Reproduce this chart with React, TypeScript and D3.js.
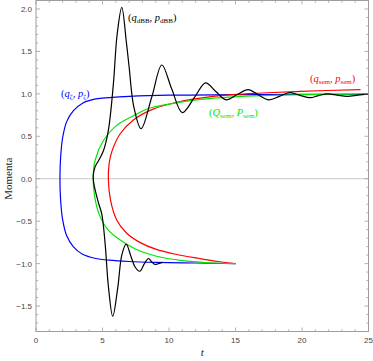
import React from 'react';
import * as d3 from 'd3';

// ---- data (t, momentum) ----
const blueT = [15, 12, 9, 7, 5.5, 4.5, 3.5, 2.8, 2.3, 2.0, 1.85, 1.8, 1.85, 2.0, 2.3, 2.8, 3.5, 4.5, 5.5, 7, 10, 15, 20, 25];
const blueP = [-1.0, -0.993, -0.985, -0.975, -0.96, -0.94, -0.89, -0.8, -0.67, -0.48, -0.25, 0, 0.25, 0.48, 0.67, 0.8, 0.89, 0.94, 0.955, 0.97, 0.985, 0.99, 0.993, 0.995];

const redT = [15, 13.7, 12.3, 10.5, 9, 7.8, 6.8, 6.05, 5.6, 5.44, 5.5, 5.7, 6.33, 7.3, 8.8, 10.84, 12.35, 14.8, 17, 19.9, 24.4];
const redP = [-1.0, -0.975, -0.94, -0.89, -0.83, -0.75, -0.64, -0.48, -0.25, 0, 0.18, 0.32, 0.53, 0.69, 0.82, 0.91, 0.95, 0.99, 1.01, 1.03, 1.05];

const greenT = [15, 13, 11, 9, 7.5, 6.3, 5.4, 4.75, 4.4, 4.3, 4.45, 5.07, 6.0, 7.3, 8.5, 10, 12.35, 14.8, 17, 20, 25];
const greenP = [-1.0, -0.99, -0.965, -0.91, -0.83, -0.72, -0.6, -0.42, -0.2, 0.02, 0.22, 0.45, 0.62, 0.74, 0.83, 0.88, 0.935, 0.965, 0.98, 0.99, 1.0];

const blackT = [9.5, 9.2, 8.95, 8.7, 8.46, 8.15, 7.8, 7.45, 7.15, 6.78, 6.45, 6.15, 5.77, 5.45, 5.2, 4.95, 4.69, 4.4, 4.3, 4.44, 4.69, 5.07, 5.44, 5.82, 6.1, 6.45, 6.8, 7.0, 7.35, 7.9, 8.7, 9.46, 10.2, 11.0, 11.9, 12.75, 13.5, 14.3, 15.1, 15.95, 16.7, 17.5, 18.3, 19.05, 19.8, 20.6, 21.25, 21.9, 22.65, 23.4, 24.2, 25];
const blackP = [-0.985, -1.0, -1.01, -0.98, -0.94, -1.0, -1.09, -1.04, -0.92, -0.77, -0.9, -1.28, -1.62, -1.28, -0.77, -0.42, -0.28, -0.1, 0.02, 0.14, 0.21, 0.33, 0.57, 1.12, 1.7, 2.02, 1.6, 1.32, 0.85, 0.59, 0.96, 1.34, 1.06, 0.78, 0.955, 1.13, 1.03, 0.93, 0.99, 1.05, 0.99, 0.93, 0.97, 1.015, 0.985, 0.955, 0.98, 1.0, 0.985, 0.97, 0.985, 1.0];

const xTicks = [0, 5, 10, 15, 20, 25];
const yTicks = [-1.5, -1.0, -0.5, 0.0, 0.5, 1.0, 1.5, 2.0];

const zip = (a: number[], b: number[]) => a.map((v, i) => [v, b[i]] as [number, number]);

export default function App() {
  const W = 373, H = 361;
  const x = d3.scaleLinear().domain([0, 25]).range([36, 368.5]);
  const y = d3.scaleLinear().domain([-1.8, 2.1]).range([331.5, 0.5]);
  const line = d3.line<[number, number]>().x(d => x(d[0])).y(d => y(d[1])).curve(d3.curveCatmullRom.alpha(0.5));

  const x0 = x.range()[0], x1 = x.range()[1], y0 = y.range()[0], y1 = y.range()[1];
  const frameCol = '#9e9e9e';
  const minorX = d3.range(0, 26, 1).filter(v => v % 5 !== 0);
  const minorY = d3.range(-18, 22, 1).map(v => v / 10).filter(v => Math.abs(Math.round(v * 10) % 5) !== 0);
  const fmt = d3.format('.1f');

  const serif = 'Liberation Serif, Times New Roman, serif';
  const sub = 7;
  const lbl = (xx: number, yy: number, col: string, a: string, b: string, s: string) => (
    <text x={xx} y={yy} fill={col} fontFamily={serif} fontSize={10.5}>
      <tspan>(</tspan>
      <tspan fontStyle="italic">{a}</tspan>
      <tspan fontSize={sub} dy={2}>{s}</tspan>
      <tspan dy={-2}>, </tspan>
      <tspan fontStyle="italic">{b}</tspan>
      <tspan fontSize={sub} dy={2}>{s}</tspan>
      <tspan dy={-2}>)</tspan>
    </text>
  );

  return (
    <svg width={W} height={H} style={{ position: 'absolute', left: 0, top: 0, background: '#fff' }}>
      {/* y = 0 axis */}
      <line x1={x0} x2={x1} y1={y(0)} y2={y(0)} stroke="#c8c8c8" strokeWidth={1} />
      {/* curves */}
      <g fill="none" strokeWidth={1.2} strokeLinejoin="round">
        <path d={line(zip(blueT, blueP)) || ''} stroke="#0000ff" />
        <path d={line(zip(redT, redP)) || ''} stroke="#ff0000" />
        <path d={line(zip(greenT, greenP)) || ''} stroke="#00e600" />
        <path d={line(zip(blackT, blackP)) || ''} stroke="#000" />
      </g>
      {/* frame */}
      <rect x={x0} y={y1} width={x1 - x0} height={y0 - y1} fill="none" stroke={frameCol} strokeWidth={1} />
      <g stroke={frameCol} strokeWidth={0.8}>
        {xTicks.map(t => (
          <g key={'xt' + t}>
            <line x1={x(t)} x2={x(t)} y1={y0} y2={y0 - 4} />
            <line x1={x(t)} x2={x(t)} y1={y1} y2={y1 + 4} />
          </g>
        ))}
        {minorX.map(t => (
          <g key={'xm' + t}>
            <line x1={x(t)} x2={x(t)} y1={y0} y2={y0 - 2.2} />
            <line x1={x(t)} x2={x(t)} y1={y1} y2={y1 + 2.2} />
          </g>
        ))}
        {yTicks.map(t => (
          <g key={'yt' + t}>
            <line x1={x0} x2={x0 + 4} y1={y(t)} y2={y(t)} />
            <line x1={x1} x2={x1 - 4} y1={y(t)} y2={y(t)} />
          </g>
        ))}
        {minorY.map(t => (
          <g key={'ym' + t}>
            <line x1={x0} x2={x0 + 2.2} y1={y(t)} y2={y(t)} />
            <line x1={x1} x2={x1 - 2.2} y1={y(t)} y2={y(t)} />
          </g>
        ))}
      </g>
      {/* tick labels */}
      <g fill="#444" fontFamily="Liberation Sans, Arial, sans-serif" fontSize={8}>
        {xTicks.map(t => (
          <text key={'xl' + t} x={x(t)} y={y0 + 11} textAnchor="middle">{t}</text>
        ))}
        {yTicks.map(t => (
          <text key={'yl' + t} x={x0 - 4} y={y(t) + 3} textAnchor="end">{fmt(t)}</text>
        ))}
      </g>
      {/* axis labels */}
      <text x={(x0 + x1) / 2} y={356} textAnchor="middle" fontFamily={serif} fontStyle="italic" fontSize={11} fill="#222">t</text>
      <text transform={`translate(12,${y(0)}) rotate(-90)`} textAnchor="middle" fontFamily={serif} fontSize={11} fill="#222">Momenta</text>
      {/* curve labels */}
      {lbl(61, 97, '#0000ff', 'q', 'p', 'ζ')}
      {lbl(128, 21, '#000', 'q', 'p', 'dBB')}
      {lbl(209, 116, '#00e600', 'Q', 'P', 'sem')}
      {lbl(310, 82, '#ff0000', 'q', 'p', 'sem')}
    </svg>
  );
}
